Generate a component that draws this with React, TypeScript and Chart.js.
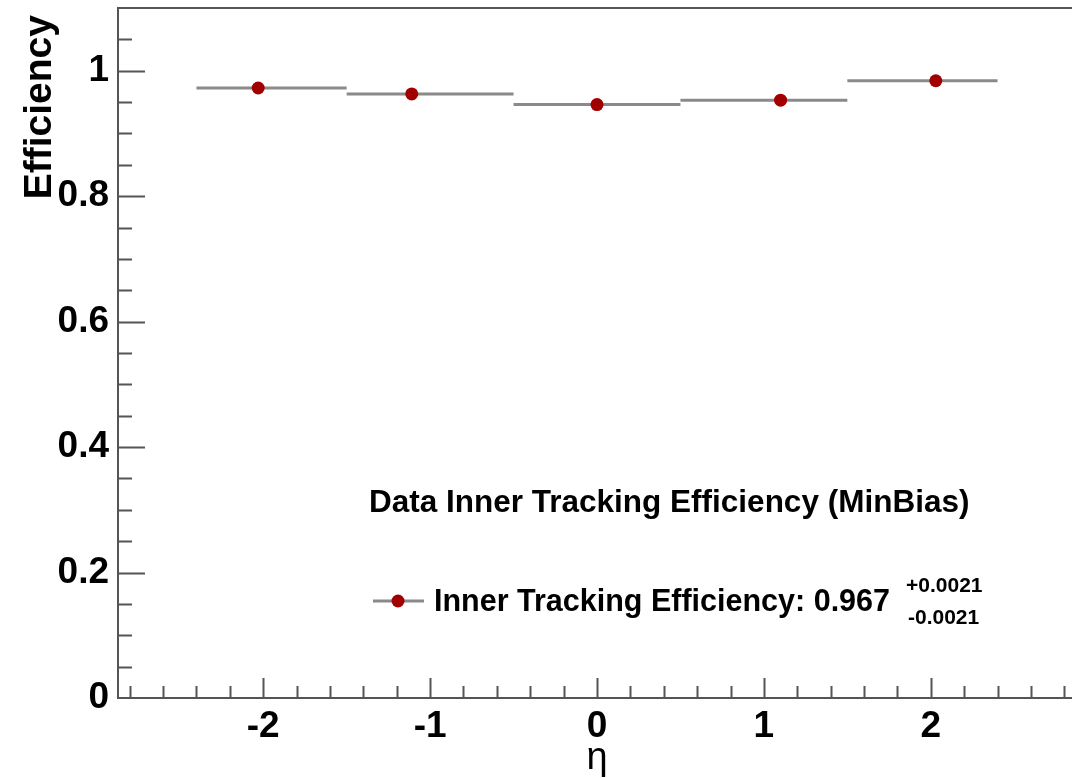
import React, { useEffect, useRef } from "react";
import { Chart, registerables } from "chart.js";

Chart.register(...registerables);

// ---- data ----
const binLow = [-2.4, -1.5, -0.5, 0.5, 1.5];
const binHigh = [-1.5, -0.5, 0.5, 1.5, 2.4];
const etaCenter = [-2.03, -1.11, 0.0, 1.1, 2.03];
const efficiency = [0.9725, 0.963, 0.946, 0.953, 0.984];
const xTickValues = [-2, -1, 0, 1, 2];
const yTickValues = [0, 0.2, 0.4, 0.6, 0.8, 1];
const xRange = [-2.87, 2.87];
const yRange = [0, 1.1];
const legendTitle = "Data Inner Tracking Efficiency (MinBias)";
const legendLabel = "Inner Tracking Efficiency: 0.967";
const legendUp = "+0.0021";
const legendDown = "-0.0021";
const xTitle = "η";
const yTitle = "Efficiency";

const FONT = '"Liberation Sans", Arial, Helvetica, sans-serif';
const AXIS_COLOR = "#555555";
const MARKER_COLOR = "#a00000";
const BAR_COLOR = "#8a8a8a";

const rootStyle = {
  id: "rootStyle",
  afterDatasetsDraw(chart: any) {
    const { ctx, chartArea: a } = chart;
    const x = chart.scales.x;
    const y = chart.scales.y;
    ctx.save();
    // frame
    ctx.strokeStyle = AXIS_COLOR;
    ctx.lineWidth = 2;
    ctx.strokeRect(a.left, a.top, a.right - a.left, a.bottom - a.top);
    // inward ticks
    ctx.beginPath();
    for (let i = 1; i < 22; i++) {
      const py = Math.round(y.getPixelForValue(i * 0.05)) + 0.5;
      const len = i % 4 === 0 ? 27 : 14;
      ctx.moveTo(a.left, py);
      ctx.lineTo(a.left + len, py);
    }
    for (let i = -14; i <= 14; i++) {
      const px = Math.round(x.getPixelForValue(i * 0.2)) + 0.5;
      const len = i % 5 === 0 ? 20 : 12;
      ctx.moveTo(px, a.bottom);
      ctx.lineTo(px, a.bottom - len);
    }
    ctx.stroke();

    // axis titles
    ctx.fillStyle = "#000";
    ctx.font = `bold 39px ${FONT}`;
    ctx.save();
    ctx.translate(51, 15);
    ctx.rotate(-Math.PI / 2);
    ctx.textAlign = "right";
    ctx.textBaseline = "alphabetic";
    ctx.fillText(yTitle, 0, 0);
    ctx.restore();

    ctx.font = `38px ${FONT}`;
    ctx.textAlign = "center";
    ctx.textBaseline = "alphabetic";
    ctx.fillText(xTitle, x.getPixelForValue(0), 769);

    // legend
    ctx.textAlign = "left";
    ctx.font = `bold 31.5px ${FONT}`;
    ctx.fillText(legendTitle, 369, 512);

    ctx.strokeStyle = BAR_COLOR;
    ctx.lineWidth = 3;
    ctx.beginPath();
    ctx.moveTo(373, 601);
    ctx.lineTo(424, 601);
    ctx.stroke();
    ctx.fillStyle = MARKER_COLOR;
    ctx.beginPath();
    ctx.arc(398, 601, 6.5, 0, Math.PI * 2);
    ctx.fill();

    ctx.fillStyle = "#000";
    ctx.font = `bold 30.5px ${FONT}`;
    ctx.fillText(legendLabel, 434, 611);
    const w = ctx.measureText(legendLabel).width;
    ctx.font = `bold 21px ${FONT}`;
    ctx.fillText(legendUp, 434 + w + 16, 592);
    ctx.fillText(legendDown, 434 + w + 18, 624);
    ctx.restore();
  },
};

export default function App() {
  const ref = useRef<HTMLCanvasElement | null>(null);

  useEffect(() => {
    if (!ref.current) return;
    const points = etaCenter.map((e, i) => ({ x: e, y: efficiency[i] }));
    const bars: any[] = [];
    binLow.forEach((lo, i) => {
      bars.push({ x: lo, y: efficiency[i] });
      bars.push({ x: binHigh[i], y: efficiency[i] });
      bars.push({ x: binHigh[i], y: null });
    });

    const chart = new Chart(ref.current, {
      type: "scatter",
      data: {
        datasets: [
          {
            label: "points",
            data: points,
            pointRadius: 6.5,
            pointHoverRadius: 6.5,
            pointBackgroundColor: MARKER_COLOR,
            pointBorderWidth: 0,
            borderWidth: 0,
            showLine: false,
            order: 0,
          },
          {
            type: "line",
            label: "bins",
            data: bars,
            borderColor: BAR_COLOR,
            borderWidth: 3,
            pointRadius: 0,
            spanGaps: false,
            showLine: true,
            fill: false,
            order: 1,
          } as any,
        ],
      },
      options: {
        animation: false,
        responsive: false,
        devicePixelRatio: 1,
        layout: { padding: { top: 8, right: 14, left: 0, bottom: 0 } },
        plugins: { legend: { display: false }, tooltip: { enabled: false } },
        events: [],
        scales: {
          x: {
            type: "linear",
            min: xRange[0],
            max: xRange[1],
            grid: { display: false, drawTicks: false },
            border: { display: false },
            afterBuildTicks: (s: any) => {
              s.ticks = xTickValues.map((v) => ({ value: v }));
            },
            afterFit: (s: any) => {
              s.height = 80;
              s.paddingLeft = 0;
              s.paddingRight = 0;
              s.paddingTop = 0;
              s.paddingBottom = 0;
            },
            ticks: {
              color: "#000",
              padding: 7,
              maxRotation: 0,
              autoSkip: false,
              font: { family: FONT, size: 37, weight: "bold" },
              callback: (v: any) => String(v),
            },
          },
          y: {
            type: "linear",
            min: yRange[0],
            max: yRange[1],
            grid: { display: false, drawTicks: false },
            border: { display: false },
            afterBuildTicks: (s: any) => {
              s.ticks = yTickValues.map((v) => ({ value: v }));
            },
            afterFit: (s: any) => {
              s.width = 118;
              s.paddingLeft = 0;
              s.paddingRight = 0;
              s.paddingTop = 0;
              s.paddingBottom = 0;
            },
            ticks: {
              color: "#000",
              padding: 9,
              autoSkip: false,
              font: { family: FONT, size: 37, weight: "bold" },
              callback: (v: any) => String(v),
            },
          },
        },
      },
      plugins: [rootStyle],
    } as any);
    return () => chart.destroy();
  }, []);

  return (
    <div
      style={{
        position: "fixed",
        left: 0,
        top: 0,
        width: 1072,
        height: 778,
        overflow: "hidden",
        background: "#fff",
      }}
    >
      <canvas ref={ref} width={1090} height={778} style={{ display: "block" }} />
    </div>
  );
}
